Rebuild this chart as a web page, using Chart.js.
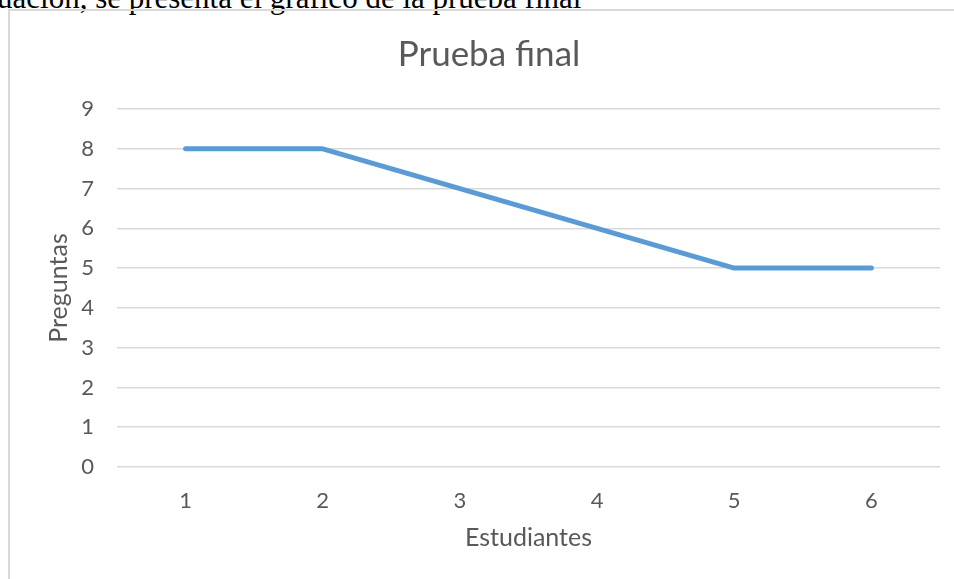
<!DOCTYPE html>
<html>
<head>
<meta charset="utf-8">
<script src="https://cdn.jsdelivr.net/npm/chart.js@4.4.1/dist/chart.umd.min.js"></script>
<style>
  html, body { margin: 0; padding: 0; background: #fff; overflow: hidden; }
  #page { position: relative; width: 954px; height: 579px; overflow: hidden; }
  #doctext {
    position: absolute; left: -3px; top: -18px; white-space: nowrap;
    font-family: "Liberation Serif", "DejaVu Serif", serif; font-size: 31px; line-height: 31px; color: #000;
  }
  #frame {
    position: absolute; left: 8px; top: 9px; width: 1000px; height: 640px;
    border: 2px solid #d9d9d9; box-sizing: border-box;
  }
  #wrap { position: absolute; left: 0; top: 0; width: 954px; height: 579px; }
</style>
</head>
<body>
<div id="page">
  <div id="doctext">uación, se presenta el gráfico de la prueba final</div>
  <div id="frame"></div>
  <div id="wrap"><canvas id="chart"></canvas></div>
</div>
<script>
// data
const estudiantes = ["1", "2", "3", "4", "5", "6"];
const preguntas = [8, 8, 7, 6, 5, 5];
const yTicks = [0, 1, 2, 3, 4, 5, 6, 7, 8, 9];

const textGray = "#595959";
const gridGray = "#d9d9d9";
const fontFamily = "Lato, Carlito, 'Open Sans', sans-serif";

const ctx = document.getElementById("chart").getContext("2d");
new Chart(ctx, {
    type: "line",
    data: {
        labels: estudiantes,
        datasets: [{
            label: "Preguntas",
            data: preguntas,
            borderColor: "#5b9bd5",
            borderWidth: 5,
            borderCapStyle: "round",
            borderJoinStyle: "round",
            pointRadius: 0,
            tension: 0,
            fill: false,
        }]
    },
    options: {
        responsive: true,
        maintainAspectRatio: false,
        animation: false,
        // left padding shifts the title centre over the framed box
        layout: { padding: { left: 38, right: 14, top: 0, bottom: 0 } },
        plugins: {
            legend: { display: false },
            tooltip: { enabled: false },
            title: {
                display: true,
                text: "Prueba final",
                color: textGray,
                font: { family: fontFamily, size: 35, weight: "normal" },
                padding: { top: 34, bottom: 33 },
            }
        },
        scales: {
            x: {
                offset: true,
                grid: { display: false, drawTicks: false },
                border: { display: false },
                ticks: {
                    color: textGray,
                    font: { family: fontFamily, size: 22 },
                    padding: 21,
                },
                title: {
                    display: true,
                    text: "Estudiantes",
                    color: textGray,
                    font: { family: fontFamily, size: 25 },
                    padding: { top: 26, bottom: 26 },
                },
                afterFit: (scale) => { scale.height = 112; }
            },
            y: {
                min: 0,
                max: 9,
                grid: { color: gridGray, lineWidth: 1.5, drawTicks: false },
                border: { display: false },
                afterBuildTicks: (scale) => { scale.ticks = yTicks.map(v => ({ value: v })); },
                ticks: {
                    color: textGray,
                    font: { family: fontFamily, size: 22 },
                    padding: 23,
                },
                title: {
                    display: true,
                    text: "Preguntas",
                    color: textGray,
                    font: { family: fontFamily, size: 25 },
                    padding: { top: 6, bottom: 6 },
                },
                afterFit: (scale) => { scale.width = 79; }
            }
        }
    }
});
</script>
</body>
</html>
